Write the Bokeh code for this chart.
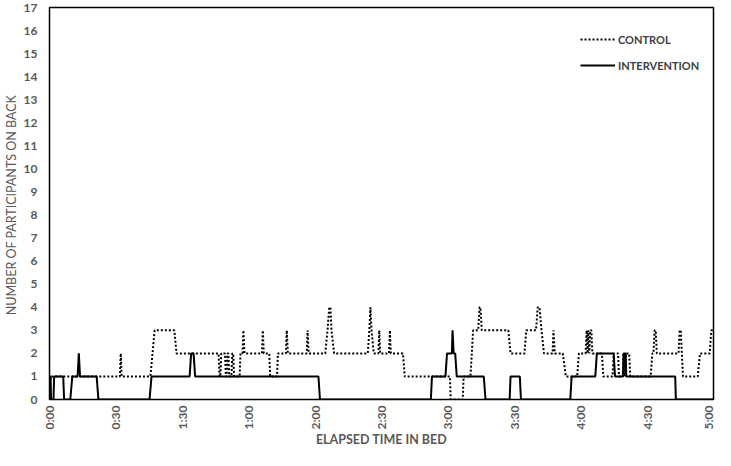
import math
from bokeh.plotting import figure
from bokeh.models import Range1d, FixedTicker, Legend, LegendItem
from bokeh.embed import file_html
from bokeh.resources import INLINE

# elapsed minutes, number of participants on back
control_points = [
    (0, 0), (0.4, 1),
    (31.8, 1), (32.2, 2), (32.6, 1),
    (45.6, 1), (47.5, 3),
    (56.4, 3), (57.4, 2),
    (76.4, 2), (76.8, 1), (77.2, 1), (77.6, 2), (79.3, 2), (79.7, 1), (80.0, 1), (80.4, 2),
    (80.8, 2), (81.2, 1), (82.2, 1), (82.6, 2), (83.0, 2), (83.4, 1), (85.9, 1), (86.3, 2),
    (87.2, 2), (87.6, 3), (88.1, 2),
    (96.0, 2), (96.4, 3), (96.8, 2),
    (99.3, 2), (99.7, 1),
    (102.8, 1), (103.2, 2),
    (106.8, 2), (107.2, 3), (107.7, 2),
    (116.2, 2), (116.6, 3), (117.1, 2),
    (124.6, 2), (125.6, 3), (126.4, 4), (126.9, 4), (127.4, 3), (128.6, 2),
    (143.8, 2), (144.5, 3), (145.0, 4), (145.5, 3), (146.5, 2),
    (148.6, 2), (149.0, 3), (149.4, 2),
    (153.4, 2), (153.8, 3), (154.2, 2),
    (159.7, 2), (160.5, 1),
    (180.9, 1), (181.3, 0), (186.7, 0), (187.1, 1),
    (190.2, 1), (191.4, 3),
    (193.7, 3), (194.3, 4), (194.7, 4), (195.3, 3),
    (207.3, 3), (208.3, 2),
    (214.6, 2), (215.4, 3),
    (219.8, 3), (220.6, 4), (221.4, 4), (222.3, 3), (223.4, 2),
    (227.3, 2), (227.7, 3), (228.3, 2),
    (231.9, 2), (233.3, 1),
    (238.4, 1), (239.2, 2),
    (242.2, 2), (242.7, 3), (243.1, 2), (243.5, 3), (243.9, 2), (244.3, 3), (244.8, 3), (245.3, 2),
    (249.6, 2), (250.2, 1),
    (254.4, 1), (254.9, 2),
    (256.9, 2), (257.3, 1), (259.0, 1), (259.3, 2), (259.6, 1), (259.9, 2), (260.2, 1), (260.5, 2),
    (261.9, 2), (262.4, 1),
    (271.6, 1), (272.4, 2), (272.9, 2), (273.4, 3), (273.9, 3), (274.4, 2),
    (284.2, 2), (284.7, 3), (285.2, 3), (286.2, 1),
    (292.9, 1), (293.9, 2),
    (298.3, 2), (299.0, 3), (300, 3),
]

intervention_points = [
    (0, 0), (0.3, 1), (0.5, 1), (0.7, 0), (1.8, 0), (2.1, 1),
    (6.2, 1), (6.6, 0), (9.4, 0), (10.3, 1),
    (12.7, 1), (13.25, 2), (13.8, 1),
    (21.3, 1), (22.1, 0), (45.2, 0), (46.1, 1),
    (63.3, 1), (64.0, 2), (65.1, 2), (65.8, 1),
    (121.5, 1), (122.2, 0), (172.3, 0), (172.8, 1),
    (178.9, 1), (179.6, 2), (181.8, 2), (182.1, 3), (182.6, 2), (183.3, 2), (184.0, 1),
    (196.2, 1), (197.0, 0), (207.9, 0), (208.3, 1), (212.5, 1), (213.0, 0),
    (235.3, 0), (235.9, 1), (246.6, 1), (247.3, 2), (254.9, 2), (255.5, 1),
    (259.1, 1), (259.4, 2), (260.3, 2), (260.6, 1),
    (282.7, 1), (283.0, 0), (300, 0),
]

x_ticks = [0, 30, 60, 90, 120, 150, 180, 210, 240, 270, 300]
x_tick_labels = ["0:00", "0:30", "1:30", "1:00", "2:00", "2:30", "3:00", "3:30", "4:00", "4:30", "5:00"]
y_ticks = list(range(0, 18))
x_title = "ELAPSED TIME IN BED"
y_title = "NUMBER OF PARTICIPANTS  ON BACK"

control_t = [p[0] for p in control_points]
control_n = [p[1] for p in control_points]
interv_t = [p[0] for p in intervention_points]
interv_n = [p[1] for p in intervention_points]

FONT = "Lato"
GREY = "#595959"

p = figure(width=715, height=450, output_backend="svg", toolbar_location=None,
           x_range=Range1d(0, 300), y_range=Range1d(0, 17),
           min_border_left=39, min_border_right=2, min_border_top=7, min_border_bottom=0)
p.grid.visible = False
p.outline_line_color = "black"
p.outline_line_width = 1.5
p.background_fill_color = "white"
p.border_fill_color = "white"

rc = p.line(control_t, control_n, line_color="black", line_width=2, line_dash="2 2")
ri = p.line(interv_t, interv_n, line_color="black", line_width=2)

for ax in (p.xaxis[0], p.yaxis[0]):
    ax.axis_line_color = None
    ax.major_tick_line_color = None
    ax.minor_tick_line_color = None
    ax.major_tick_out = 0
    ax.major_tick_in = 0
    ax.major_label_text_font = FONT
    ax.major_label_text_font_style = "bold"
    ax.major_label_text_font_size = "12px"
    ax.major_label_text_color = GREY
    ax.major_label_text_line_height = 1.0
    ax.axis_label_text_font = FONT
    ax.axis_label_text_font_size = "12.5px"
    ax.axis_label_text_color = GREY
    ax.axis_label_text_line_height = 1.0

p.xaxis.ticker = FixedTicker(ticks=x_ticks)
p.xaxis.major_label_overrides = {t: l for t, l in zip(x_ticks, x_tick_labels)}
p.xaxis.major_label_orientation = math.pi / 2
p.xaxis.major_label_standoff = 6
p.xaxis.axis_label = x_title
p.xaxis.axis_label_text_font_style = "bold"
p.xaxis.axis_label_standoff = 0

p.yaxis.ticker = FixedTicker(ticks=y_ticks)
p.yaxis.major_label_standoff = 12
p.yaxis.axis_label = y_title
p.yaxis.axis_label_text_font_style = "normal"
p.yaxis.axis_label_standoff = 2

legend = Legend(items=[LegendItem(label="CONTROL", renderers=[rc]),
                       LegendItem(label="INTERVENTION", renderers=[ri])],
                location=(531, 324), orientation="vertical",
                glyph_width=35, glyph_height=20, label_standoff=3, spacing=6,
                padding=0, margin=0, border_line_alpha=0, background_fill_alpha=0,
                label_text_font=FONT, label_text_font_style="bold",
                label_text_font_size="11px", label_text_color="#404040")
p.add_layout(legend)

open("out.html", "w").write(file_html(p, INLINE))
